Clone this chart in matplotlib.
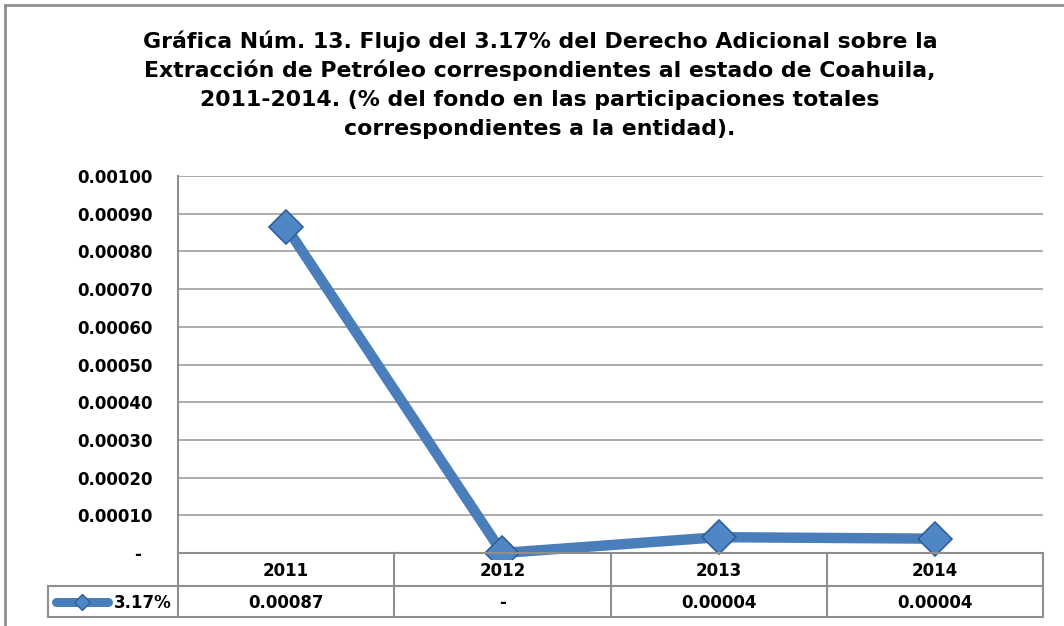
import matplotlib.pyplot as plt
from matplotlib.lines import Line2D

plt.rcParams['font.family'] = ['DejaVu Sans']

# datos
anios = ['2011', '2012', '2013', '2014']
valores = [0.000865, 0.0, 0.000042, 0.000038]
etiquetas_tabla = ['0.00087', '-', '0.00004', '0.00004']
serie = '3.17%'
titulo = ['Gráfica Núm. 13. Flujo del 3.17% del Derecho Adicional sobre la',
          'Extracción de Petróleo correspondientes al estado de Coahuila,',
          '2011-2014. (% del fondo en las participaciones totales',
          'correspondientes a la entidad).']

W, H = 1064, 626
azul = '#4A7EBB'
gris = '#8F8F8F'
fs = 12

fig = plt.figure(figsize=(W / 100, H / 100), dpi=100)

def fx(px):
    return px / W

def fy(py):
    return 1 - py / H

# area del grafico
x0, x1, y0, y1 = 178, 1043, 176, 553
ax = fig.add_axes([fx(x0), fy(y1), fx(x1 - x0), (y1 - y0) / H])
xs = list(range(len(anios)))
ax.plot(xs, valores, color=azul, lw=7.5, solid_capstyle='round', zorder=3, clip_on=False)
ax.plot(xs, valores, ls='none', marker='D', ms=17, mfc='#4F86C6', mec='#2F5F9A', mew=1.2,
        zorder=6, clip_on=False)
ax.set_xlim(-0.5, len(anios) - 0.5)
ax.set_ylim(0, 0.001)
ticks = [i * 0.0001 for i in range(11)]
ax.set_yticks(ticks)
ax.set_yticklabels(['-  ' if t == 0 else f'{t:.5f}' for t in ticks], fontsize=fs, fontweight='bold')
ax.tick_params(axis='y', length=0, pad=18)
ax.set_xticks([])
ax.grid(axis='y', color='#A6A6A6', lw=1.3)
ax.set_axisbelow(True)
for s in ['top', 'right', 'bottom']:
    ax.spines[s].set_visible(False)
ax.spines['left'].set_color(gris)
ax.spines['left'].set_linewidth(1.5)

# tabla de datos
def linea(xa, ya, xb, yb, lw=1.5, color=gris):
    fig.add_artist(Line2D([fx(xa), fx(xb)], [fy(ya), fy(yb)], color=color, lw=lw, zorder=1))

r0, r1, r2 = 553, 586, 617
col = (x1 - x0) / len(anios)
linea(x0, r0, x1, r0)
linea(48, r1, x1, r1)
linea(48, r2, x1, r2)
linea(48, r1, 48, r2)
linea(x0, r0, x0, r2)
for i in range(1, len(anios) + 1):
    linea(x0 + col * i, r0, x0 + col * i, r2)

for i, (a, v) in enumerate(zip(anios, etiquetas_tabla)):
    cx = x0 + col * (i + 0.5)
    fig.text(fx(cx), fy((r0 + r1) / 2 + 1), a, ha='center', va='center', fontsize=fs,
             fontweight='bold', zorder=2,
             bbox=dict(facecolor='white', edgecolor='none', pad=1))
    fig.text(fx(cx), fy((r1 + r2) / 2 + 1), v, ha='center', va='center', fontsize=fs,
             fontweight='bold')

# clave de la serie
ym = fy((r1 + r2) / 2)
fig.add_artist(Line2D([fx(56), fx(108)], [ym, ym], color=azul, lw=6.5, solid_capstyle='round'))
fig.add_artist(Line2D([fx(82)], [ym], marker='D', ms=8, mfc='#4F86C6', mec='#2F5F9A', ls='none'))
fig.text(fx(172), fy((r1 + r2) / 2 + 1), serie, ha='right', va='center', fontsize=fs,
         fontweight='bold')

# marco
linea(5, 5, 5, H, lw=2)
linea(5, 5, W, 5, lw=2)

for k, t in enumerate(titulo):
    fig.text(fx(540), fy(48 + 29 * k), t, ha='center', va='baseline', fontsize=15.8,
             fontweight='bold')

fig.savefig('out.png', dpi=100)
